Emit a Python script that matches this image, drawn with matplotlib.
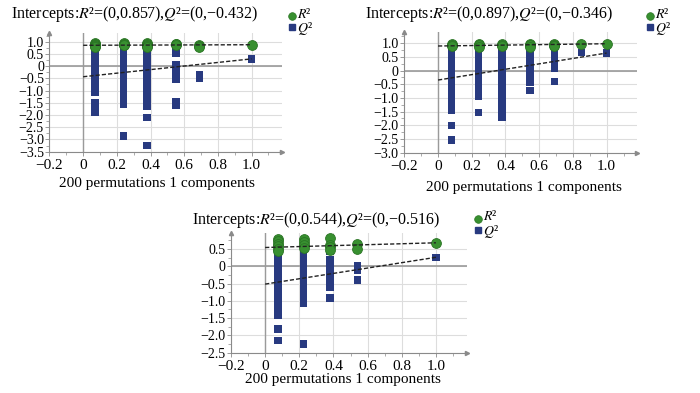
import matplotlib
matplotlib.use('Agg')
import matplotlib.pyplot as plt
from matplotlib.lines import Line2D
from matplotlib.ticker import MultipleLocator, FuncFormatter

plt.rcParams['font.family'] = ['Liberation Serif', 'DejaVu Serif']
plt.rcParams['mathtext.fontset'] = 'stix'

# ---------------- data ----------------
# Panel 1
p1_x = [0.07, 0.24, 0.38, 0.55, 0.69, 1.0]
p1_r2 = [
    [0.95, 0.92, 0.88, 0.85, 0.82, 0.80],
    [0.95, 0.92, 0.88, 0.85],
    [0.96, 0.92, 0.88, 0.84, 0.80],
    [0.93, 0.90, 0.86],
    [0.87, 0.82, 0.80],
    [0.88],
]
p1_q2 = [
    [0.75, 0.60, 0.45, 0.30, 0.15, 0.00, -0.15, -0.30, -0.45, -0.60, -0.75, -0.90, -1.05,
     -1.50, -1.65, -1.80, -1.90],
    [0.75, 0.60, 0.45, 0.30, 0.15, 0.00, -0.15, -0.30, -0.45, -0.60, -0.75, -0.90, -1.05,
     -1.20, -1.35, -1.50, -1.55, -2.85],
    [0.75, 0.60, 0.45, 0.30, 0.15, 0.00, -0.15, -0.30, -0.45, -0.60, -0.75, -0.90, -1.05,
     -1.20, -1.35, -1.50, -1.65, -2.10, -3.25],
    [0.70, 0.55, 0.05, -0.10, -0.25, -0.40, -0.55, -1.45, -1.60],
    [-0.35, -0.50],
    [0.30],
]
p1_intercepts = [0.857, -0.432]
p1_title = "Intercepts:$R$\u00b2=(0,0.857),$Q$\u00b2=(0,\u22120.432)"

# Panel 2
p2_x = [0.08, 0.24, 0.38, 0.545, 0.69, 0.85, 1.0]
p2_r2 = [
    [0.97, 0.93, 0.88],
    [0.97, 0.92, 0.87],
    [0.98, 0.94, 0.90],
    [0.96, 0.92, 0.87],
    [0.97, 0.93, 0.90],
    [0.97],
    [0.98],
]
p2_q2 = [
    [0.75, 0.60, 0.45, 0.30, 0.15, 0.00, -0.15, -0.30, -0.45, -0.60, -0.75, -0.90, -1.05,
     -1.20, -1.35, -1.45, -2.00, -2.53],
    [0.75, 0.60, 0.45, 0.30, 0.15, 0.00, -0.15, -0.30, -0.45, -0.60, -0.75, -0.90, -0.95,
     -1.53],
    [0.85, 0.70, 0.55, 0.40, 0.25, 0.10, -0.05, -0.20, -0.35, -0.50, -0.65, -0.80, -0.95,
     -1.10, -1.25, -1.40, -1.55, -1.70],
    [0.65, 0.50, 0.35, 0.20, 0.05, -0.10, -0.25, -0.42, -0.73],
    [0.80, 0.65, 0.50, 0.35, 0.20, 0.10, -0.40],
    [0.66],
    [0.64],
]
p2_intercepts = [0.897, -0.346]
p2_title = "Intercepts:$R$\u00b2=(0,0.897),$Q$\u00b2=(0,\u22120.346)"

# Panel 3
p3_x = [0.075, 0.225, 0.38, 0.54, 1.0]
p3_r2 = [
    [0.78, 0.72, 0.65, 0.58, 0.50, 0.43],
    [0.78, 0.70, 0.62, 0.52],
    [0.82, 0.62, 0.55, 0.48],
    [0.645, 0.49],
    [0.68],
]
p3_q2 = [
    [0.30, 0.20, 0.10, 0.00, -0.10, -0.20, -0.30, -0.40, -0.50, -0.60, -0.70, -0.80, -0.90,
     -1.00, -1.10, -1.20, -1.30, -1.42, -1.81, -2.15],
    [0.50, 0.40, 0.30, 0.20, 0.10, 0.00, -0.10, -0.20, -0.30, -0.40, -0.50, -0.60, -0.70,
     -0.80, -0.90, -1.00, -1.08, -2.25],
    [0.45, 0.20, 0.10, 0.00, -0.10, -0.20, -0.30, -0.40, -0.50, -0.60, -0.91],
    [0.00, -0.12, -0.40],
    [0.26],
]
p3_intercepts = [0.544, -0.516]
p3_title = "Intercepts:$R$\u00b2=(0,0.544),$Q$\u00b2=(0,\u22120.516)"

xlabel_text = "200 permutations 1 components"

GREEN = '#389030'
GREEN_EDGE = '#2a7424'
BLUE = '#283a80'

W, H = 700, 393
fig = plt.figure(figsize=(7, 3.93), dpi=100)


def fmt(v, pos):
    if abs(v) < 1e-9:
        return "0"
    return f"{v:.1f}".replace('-', '\u2212')


def panel(rect, xs, r2, q2, icpt, ylim, ytop_tick, ybot_tick, title, tpos, xlpos, legpos):
    ax = fig.add_axes(rect)
    ax.set_xlim(-0.2, 1.18)
    ax.set_ylim(*ylim)
    for s in ['top', 'right']:
        ax.spines[s].set_visible(False)
    for s in ['left', 'bottom']:
        ax.spines[s].set_color('#8a8a8a')
        ax.spines[s].set_linewidth(0.8)
    ax.xaxis.set_major_locator(MultipleLocator(0.2))
    ax.xaxis.set_minor_locator(MultipleLocator(0.1))
    ax.yaxis.set_minor_locator(MultipleLocator(0.25))
    ax.xaxis.set_major_formatter(FuncFormatter(fmt))
    ax.yaxis.set_major_formatter(FuncFormatter(fmt))
    ax.tick_params(axis='both', which='major', length=3, width=0.6, color='#8a8a8a')
    ax.tick_params(axis='x', which='major', labelsize=11, pad=2)
    ax.tick_params(axis='y', which='major', labelsize=10, pad=1)
    ax.tick_params(axis='both', which='minor', length=2, width=0.5, color='#8a8a8a')
    ax.grid(True, which='major', color='#dddddd', lw=0.8, zorder=0)
    ax.set_axisbelow(True)
    ax.axhline(0, color='#9a9a9a', lw=1.2, zorder=1)
    ax.axvline(0, color='#9a9a9a', lw=1.0, zorder=1)
    # arrows
    ax.plot([0], [1.0], marker='^', ms=3, color='#8a8a8a', transform=ax.transAxes,
            clip_on=False, zorder=6)
    ax.plot([1.0], [0], marker='>', ms=3, color='#8a8a8a', transform=ax.transAxes,
            clip_on=False, zorder=6)
    for x, vals in zip(xs, q2):
        ax.scatter([x] * len(vals), vals, marker='s', s=30, c=BLUE, edgecolors='none',
                   zorder=3)
    for x, vals in zip(xs, r2):
        ax.scatter([x] * len(vals), vals, marker='o', s=50, c=GREEN, edgecolors=GREEN_EDGE,
                   linewidths=0.6, zorder=4)
    ax.plot([0, xs[-1]], [icpt[0], r2[-1][0]], ls=(0, (3, 1.5)), color='#222222', lw=1.0,
            zorder=5)
    ax.plot([0, xs[-1]], [icpt[1], q2[-1][0]], ls=(0, (3, 1.5)), color='#222222', lw=1.0,
            zorder=5)
    yt = [v / 2 for v in range(int(ybot_tick * 2), int(ytop_tick * 2) + 1)]
    ax.set_yticks(yt)
    ax.set_ylim(*ylim)
    fig.text(tpos[0] / W, 1 - tpos[1] / H, title, ha='center', va='center', fontsize=11.5)
    fig.text(xlpos[0] / W, 1 - xlpos[1] / H, xlabel_text, ha='center', va='center',
             fontsize=11)
    lx, ly1, ly2 = legpos
    fig.add_artist(Line2D([lx / W], [1 - ly1 / H], marker='o', ms=5.5, color=GREEN,
                          mec=GREEN_EDGE, mew=0.5, transform=fig.transFigure))
    fig.add_artist(Line2D([lx / W], [1 - ly2 / H], marker='s', ms=4.6, color=BLUE,
                          mec=BLUE, transform=fig.transFigure))
    fig.text((lx + 5) / W, 1 - (ly1 - 2.5) / H, "$R$\u00b2", ha='left', va='center',
             fontsize=10)
    fig.text((lx + 5) / W, 1 - (ly2 + 2) / H, "$Q$\u00b2", ha='left', va='center',
             fontsize=10)
    return ax


panel([0.0707, 0.613, 0.332, 0.303], p1_x, p1_r2, p1_q2, p1_intercepts, (-3.52, 1.36),
      1.0, -3.5, p1_title, (134.5, 14), (157, 183), (292, 16, 26.5))
panel([0.5776, 0.6107, 0.3324, 0.308], p2_x, p2_r2, p2_q2, p2_intercepts, (-3.01, 1.41),
      1.0, -3.0, p2_title, (489, 14), (524, 187), (650, 16, 26.5))
panel([0.33, 0.1018, 0.3367, 0.305], p3_x, p3_r2, p3_q2, p3_intercepts, (-2.51, 0.96),
      0.5, -2.5, p3_title, (316.5, 220), (342.5, 380), (478, 219, 229.5))

fig.savefig('out.png', dpi=100)
